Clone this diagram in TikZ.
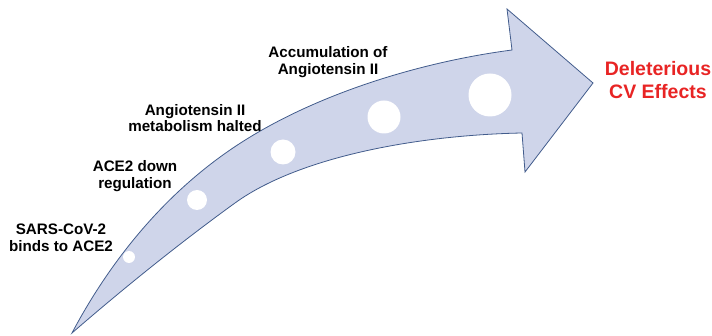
\documentclass[tikz,border=0pt]{standalone}
\usepackage{fontspec}
\setmainfont{Liberation Sans}
\usepackage{xcolor}
\usepackage{tikz}
\usetikzlibrary{positioning, calc}

\definecolor{arrowFill}{RGB}{207,213,234}
\definecolor{arrowLine}{RGB}{66,92,140}
\definecolor{effectRed}{RGB}{232,36,36}

\begin{document}
\begin{tikzpicture}[x=1pt, y=-1pt,
  lbl/.style={align=center, inner sep=0pt, font=\fontsize{15.2}{16.8}\selectfont\bfseries},
  effect/.style={align=center, inner sep=0pt, text=effectRed, font=\fontsize{19.5}{23}\selectfont\bfseries},
  dot/.style={circle, fill=white, draw=none, inner sep=0pt},
  bigarrow/.style={fill=arrowFill, draw=arrowLine, line width=0.8pt, line join=miter}
]
  \useasboundingbox (0,0) rectangle (712,336);

  % curved arrow
  \coordinate (tail) at (72,333);
  \coordinate (upJoin) at (512,50);
  \coordinate (upBarb) at (507,9);
  \coordinate (tip) at (593,83);
  \coordinate (lowBarb) at (525,172);
  \coordinate (lowJoin) at (522,133);
  \draw[bigarrow] (tail)
    .. controls (100,280) and (150,205) .. (230,150)
    .. controls (310,95) and (420,62) .. (upJoin)
    -- (upBarb) -- (tip) -- (lowBarb) -- (lowJoin)
    .. controls (420,135) and (300,156) .. (235,203)
    .. controls (170,250) and (110,300) .. (tail) -- cycle;

  % growing dots
  \node[dot, minimum size=12pt] (dot1) at (129,257) {};
  \node[dot, minimum size=20pt] (dot2) at (197,200) {};
  \node[dot, minimum size=25pt] (dot3) at (283,152) {};
  \node[dot, minimum size=33pt] (dot4) at (384,117) {};
  \node[dot, minimum size=43pt] (dot5) at (490,95) {};

  % steps
  \node[lbl] (sarsLbl) at (61,238) {SARS-CoV-2\\binds to ACE2};
  \node[lbl] (aceLbl)  at (135,176) {ACE2 down\\regulation};
  \node[lbl] (angLbl)  at (195,118) {Angiotensin II\\metabolism halted};
  \node[lbl] (accLbl)  at (328,62) {Accumulation of\\Angiotensin II};

  \node[effect] (effectLbl) at (658,80) {Deleterious\\CV Effects};
\end{tikzpicture}
\end{document}
